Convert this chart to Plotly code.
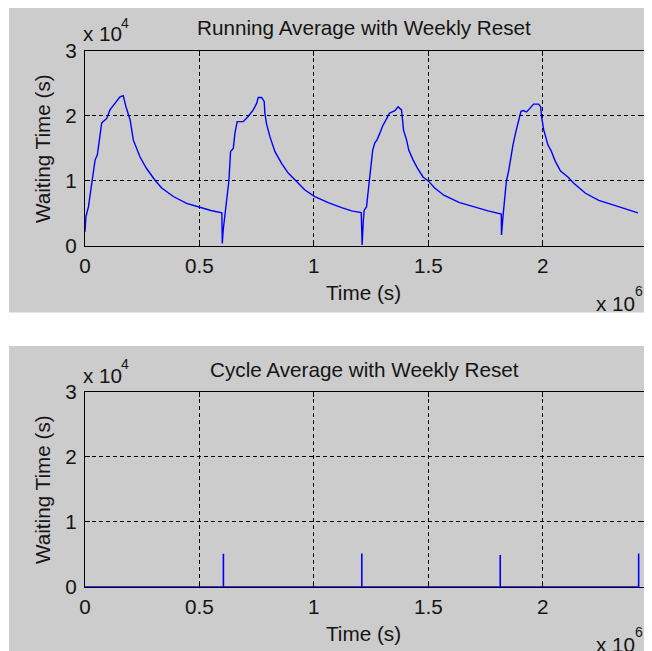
import plotly.graph_objects as go

# ---------------- data ----------------
# Running average (top panel), one array pair per week; time in seconds
week1_t = [0, 4e3, 15e3, 29e3, 44e3, 54e3, 63e3, 73e3, 95e3, 109e3, 131e3, 153e3, 167e3, 179e3,
           197e3, 211e3, 240e3, 269e3, 306e3, 335e3, 386e3, 444e3, 502e3, 550e3, 598e3]
week1_v = [2200, 4500, 6000, 9600, 13200, 14000, 16800, 18900, 19600, 20900, 21900, 22900, 23100, 21400,
           19400, 16300, 13700, 11900, 10100, 8900, 7600, 6550, 5950, 5450, 5100]

week2_t = [600e3, 604e3, 608e3, 616e3, 623e3, 629e3, 636e3, 648e3, 655e3, 665e3, 691e3, 713e3, 735e3,
           750e3, 757e3, 772e3, 783e3, 786e3, 793e3, 808e3, 830e3, 859e3, 888e3, 924e3, 961e3, 1004e3,
           1063e3, 1121e3, 1165e3, 1207e3]
week2_v = [400, 2500, 3800, 6550, 9100, 10100, 14500, 15000, 17300, 19100, 19100, 19900, 20900,
           21900, 22800, 22800, 22200, 20400, 18800, 16800, 14500, 12700, 11200, 9900, 8600, 7600,
           6650, 5900, 5400, 5150]

week3_t = [1211e3, 1216e3, 1220e3, 1230e3, 1243e3, 1249e3, 1257e3, 1266e3, 1276e3, 1288e3, 1300e3,
           1317e3, 1330e3, 1354e3, 1368e3, 1383e3, 1392e3, 1405e3, 1415e3, 1434e3, 1452e3, 1477e3,
           1500e3, 1528e3, 1568e3, 1634e3, 1689e3, 1761e3, 1819e3]
week3_v = [150, 3800, 5500, 6000, 10000, 11700, 14700, 15800, 16300, 17300, 18400,
           19500, 20400, 20800, 21400, 20900, 17800, 16300, 14700, 13200, 12000, 10600,
           10000, 8900, 7800, 6700, 6100, 5400, 4900]

week4_t = [1820e3, 1827e3, 1834e3, 1841e3, 1852e3, 1860e3, 1870e3, 1881e3, 1890e3, 1905e3, 1914e3,
           1929e3, 1943e3, 1960e3, 1982e3, 1991e3, 1995e3, 2004e3, 2023e3, 2036e3, 2055e3, 2078e3,
           2110e3, 2137e3, 2187e3, 2245e3, 2290e3, 2340e3, 2416e3]
week4_v = [1700, 4750, 7050, 9900, 11700, 13700, 15500, 17300, 18600, 20700, 20800,
           20600, 21100, 21800, 21800, 21400, 19900, 17900, 15500, 14700, 13000, 11500,
           10600, 9600, 8100, 7000, 6500, 5900, 5100]

# Cycle average (bottom panel): value at each weekly reset
reset_times = [604800, 1209600, 1814400, 2419200]
cycle_avg = [5100, 5150, 4900, 5150]

x_ticks = [0, 0.5e6, 1e6, 1.5e6, 2e6]
x_labels = ["0", "0.5", "1", "1.5", "2"]
y_ticks = [0, 1e4, 2e4, 3e4]
y_labels = ["0", "1", "2", "3"]

# ---------------- build series ----------------
run_t = week1_t + week2_t + week3_t + week4_t
run_v = week1_v + week2_v + week3_v + week4_v

cyc_t = [0]
cyc_v = [0]
for rt, av in zip(reset_times, cycle_avg):
    cyc_t += [rt, rt, rt]
    cyc_v += [0, av, 0]

# page body has an 8px margin; figure fills the rest of the 652x651 window
OFF = 8
W, H = 652 - OFF, 651 - OFF
def px(x):
    return (x - OFF) / W
def py(y):
    return 1 - (y - OFF) / H

FONT = "Liberation Sans, Arial, sans-serif"
FS = 20.7
TXT = "#151515"
BLUE = "#0000ff"

fig = go.Figure()
fig.add_trace(go.Scatter(x=run_t, y=run_v, mode="lines", line=dict(color=BLUE, width=1.4),
                         xaxis="x", yaxis="y", showlegend=False, hoverinfo="skip"))
fig.add_trace(go.Scatter(x=cyc_t, y=cyc_v, mode="lines", line=dict(color=BLUE, width=1.6),
                         xaxis="x2", yaxis="y2", showlegend=False, hoverinfo="skip"))

L, R = 85, 645
top_top, top_bot = 50.7, 246
off = 341
xr = [0, 2.447e6]

axis_common = dict(
    showline=True, linecolor="black", linewidth=1, mirror="ticks",
    ticks="inside", ticklen=5, tickcolor="black", tickwidth=1,
    showgrid=True, gridcolor="black", gridwidth=1.2, griddash="4px,3px",
    zeroline=False, tickfont=dict(family=FONT, size=FS, color=TXT),
    automargin=False, fixedrange=True,
)

fig.update_layout(
    width=W, height=H,
    margin=dict(l=0, r=0, t=0, b=0),
    paper_bgcolor="white", plot_bgcolor="white",
    xaxis=dict(domain=[px(L), px(R)], range=xr, tickvals=x_ticks, ticktext=x_labels,
               anchor="y", ticklabelstandoff=1, **axis_common),
    yaxis=dict(domain=[py(top_bot), py(top_top)], range=[0, 3e4], tickvals=y_ticks, ticktext=y_labels,
               anchor="x", ticklabelstandoff=3, **axis_common),
    xaxis2=dict(domain=[px(L), px(R)], range=xr, tickvals=x_ticks, ticktext=x_labels,
                anchor="y2", ticklabelstandoff=1, layer="below traces", **axis_common),
    yaxis2=dict(domain=[py(top_bot + off), py(top_top + off)], range=[0, 3e4], tickvals=y_ticks,
                ticktext=y_labels, anchor="x2", ticklabelstandoff=3, **axis_common),
    showlegend=False,
)

GRAY = "#cccccc"
fig.add_shape(type="rect", xref="paper", yref="paper", x0=px(9), x1=1, y0=py(312.5), y1=1,
              fillcolor=GRAY, line=dict(width=0), layer="below")
fig.add_shape(type="rect", xref="paper", yref="paper", x0=px(9), x1=1, y0=0, y1=py(346),
              fillcolor=GRAY, line=dict(width=0), layer="below")

def ann(text, x, y, xanchor="center", yanchor="middle", size=FS, angle=0):
    fig.add_annotation(text=text, x=px(x), y=py(y), xref="paper", yref="paper",
                       xanchor=xanchor, yanchor=yanchor, showarrow=False, textangle=angle,
                       font=dict(family=FONT, size=size, color=TXT))

for dy, title in [(0, "Running Average with Weekly Reset"), (off, "Cycle Average with Weekly Reset")]:
    ann(title, 364, 28 + dy)
    ann("x 10", 81, 34 + dy, xanchor="left")
    ann("4", 119, 23 + dy, xanchor="left", size=14)
    ann("Waiting Time (s)", 42, 149 + dy, angle=-90)
    ann("Time (s)", 363, 292 + dy)
    ann("x 10", 637, 303 + dy, xanchor="right")
    ann("6", 633, 291 + dy, xanchor="left", size=14)

fig.write_html("out.html")
